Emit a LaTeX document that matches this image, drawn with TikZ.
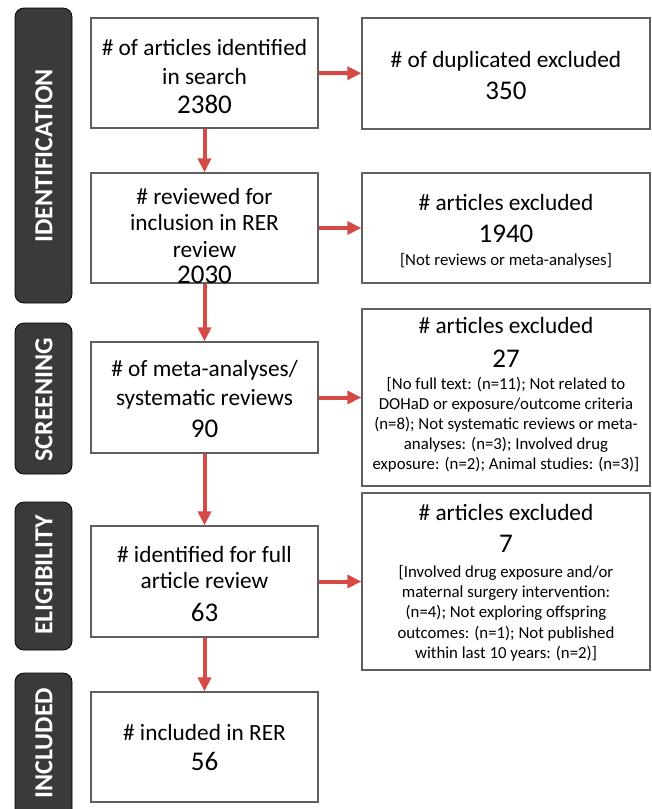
\documentclass[tikz,border=0pt]{standalone}
\usepackage{fontspec}
\setmainfont{Carlito}
\usetikzlibrary{arrows.meta}
\definecolor{arrred}{RGB}{214,74,69}
\definecolor{lblgray}{RGB}{58,58,58}
\definecolor{boxgray}{RGB}{95,95,95}
\newcommand\bignum[2]{{\fontsize{27}{#1}\selectfont\strut #2}}
\begin{document}
\begin{tikzpicture}[x=1pt,y=-1pt,
  box/.style={draw=boxgray,line width=1.3pt,inner sep=0pt,fill=white},
  lbl/.style={draw=black,fill=lblgray,rounded corners=9pt,line width=0.8pt,inner sep=0pt,minimum width=57pt},
  lbltxt/.style={text=white,font=\fontsize{26}{30}\selectfont\bfseries,rotate=90,inner sep=0pt},
  bigtxt/.style={align=center,inner sep=0pt,anchor=north,font=\fontsize{23.3}{#1}\selectfont},
  smalltxt/.style={align=center,inner sep=0pt,anchor=north,font=\fontsize{16.8}{#1}\selectfont},
  arr/.style={draw=arrred,line width=4pt,-{Triangle[length=14pt,width=13pt]}}
]
\useasboundingbox (0,0) rectangle (652,809);
\clip (0,0) rectangle (652,809);
\fill[white] (0,0) rectangle (652,809);

% phase labels
\node[lbl,minimum height=295pt] (l1) at (43.5,155.5) {};
\node[lbltxt] (t1) at (44,156) {IDENTIFICATION};
\node[lbl,minimum height=151pt] (l2) at (43.5,398.5) {};
\node[lbltxt] (t2) at (44,399.5) {SCREENING};
\node[lbl,minimum height=148pt] (l3) at (43.5,576) {};
\node[lbltxt] (t3) at (44,575) {ELIGIBILITY};
\node[lbl,minimum height=157pt] (l4) at (43.5,751.5) {};
\node[lbltxt] (t4) at (44,743) {INCLUDED};

% left column boxes
\node[box,minimum width=227pt,minimum height=110pt] (b1) at (204.5,73) {};
\node[box,minimum width=227pt,minimum height=110pt] (b2) at (204.5,228) {};
\node[box,minimum width=227pt,minimum height=111pt] (b3) at (204.5,397.5) {};
\node[box,minimum width=227pt,minimum height=111pt] (b4) at (204.5,581.5) {};
\node[box,minimum width=227pt,minimum height=110pt] (b5) at (204.5,747) {};

% right column boxes
\node[box,minimum width=288pt,minimum height=111pt] (r1) at (506,73.5) {};
\node[box,minimum width=288pt,minimum height=110pt] (r2) at (506,228) {};
\node[box,minimum width=288pt,minimum height=177pt] (r3) at (506,397.5) {};
\node[box,minimum width=288pt,minimum height=177pt] (r4) at (506,581.5) {};

% texts
\node[bigtxt=29] (x1) at (204.5,34.7) {\strut\# of articles identified\\\strut in search\\\bignum{29}{2380}};
\node[bigtxt=26.5] (x2) at (204.5,185.45) {\strut\# reviewed for\\\strut inclusion in RER\\\strut review\\\bignum{26.5}{2030}};
\node[bigtxt=29] (x3) at (204.5,355.7) {\strut\# of meta-analyses/\\\strut systematic reviews\\[3pt]\bignum{29}{90}};
\node[bigtxt=26] (x4) at (204.5,543.8) {\strut\# identified for full\\\strut article review\\[6pt]\bignum{26}{63}};
\node[bigtxt=30] (x5) at (204.5,719) {\strut\# included in RER\\\bignum{30}{56}};

\node[bigtxt=32] (y1) at (506,44.6) {\strut\# of duplicated excluded\\\bignum{32}{350}};
\node[bigtxt=32] (y2) at (506,187.6) {\strut\# articles excluded\\\bignum{32}{1940}};
\node[smalltxt=20,anchor=base] (z2) at (506,265) {[Not reviews or meta-analyses]};
\node[bigtxt=34] (y3) at (506,309.2) {\strut\# articles excluded\\\bignum{34}{27}};
\node[smalltxt=20] (z3) at (506,375) {\strut[No full text: (n=11); Not related to\\\strut DOHaD or exposure/outcome criteria\\\strut (n=8); Not systematic reviews or meta-\\\strut analyses: (n=3); Involved drug\\\strut exposure: (n=2); Animal studies: (n=3)]};
\node[bigtxt=32] (y4) at (506,497.6) {\strut\# articles excluded\\\bignum{32}{7}};
\node[smalltxt=20.3] (z4) at (506,562.8) {\strut[Involved drug exposure and/or\\\strut maternal surgery intervention:\\\strut (n=4); Not exploring offspring\\\strut outcomes: (n=1); Not published\\\strut within last 10 years: (n=2)]};

% connectors
\draw[arr] (b1) -- (b2);
\draw[arr] (b2) -- (b3);
\draw[arr] (b3) -- (b4);
\draw[arr] (b4) -- (b5);
\draw[arr] (b1) -- (r1);
\draw[arr] (b2) -- (r2);
\draw[arr] (b3) -- (r3);
\draw[arr] (b4) -- (r4);
\end{tikzpicture}
\end{document}
